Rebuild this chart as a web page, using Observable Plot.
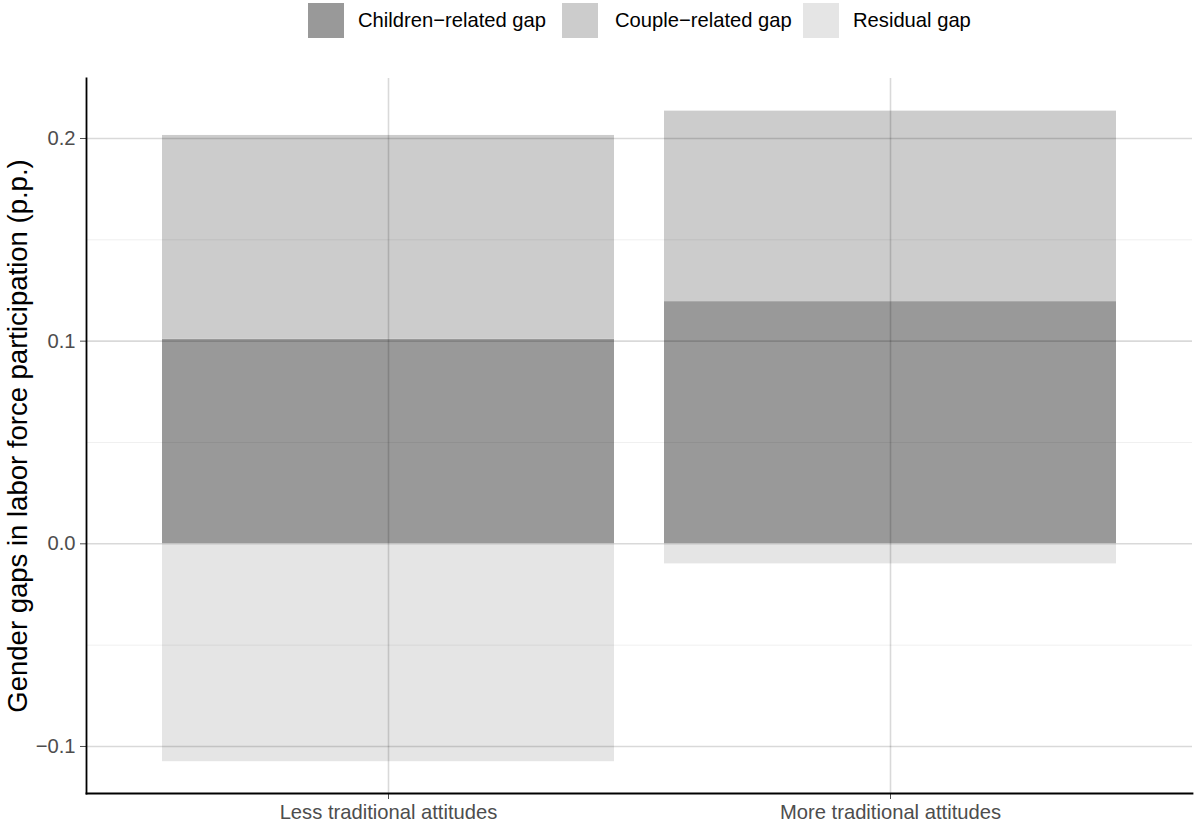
<!DOCTYPE html>
<html>
<head>
<meta charset="utf-8">
<script src="https://cdn.jsdelivr.net/npm/d3@7"></script>
<script src="https://cdn.jsdelivr.net/npm/@observablehq/plot@0.6"></script>
<style>
  body { margin: 0; background: #fff; font-family: "Liberation Sans", Arial, sans-serif; }
  #legend { position: relative; width: 1194px; height: 44px; }
  .sw { position: absolute; top: 3px; width: 36px; height: 35px; }
  .lt { position: absolute; top: 3px; height: 35px; line-height: 35px; font-size: 20.2px; color: #000; white-space: nowrap; }
</style>
</head>
<body>
<div id="legend"></div>
<div id="chart"></div>
<script>
const categories = ["Less traditional attitudes", "More traditional attitudes"];
const seriesNames = ["Children\u2212related gap", "Couple\u2212related gap", "Residual gap"];
const seriesColors = ["#999999", "#cccccc", "#e5e5e5"];
const childrenGap = [0.101, 0.1195];
const coupleGap = [0.1005, 0.094];
const residualGap = [-0.1075, -0.0099];
const yTicks = [-0.1, 0, 0.1, 0.2];
const yMinorTicks = [-0.05, 0.05, 0.15];
const yTitle = "Gender gaps in labor force participation (p.p.)";

const seriesValues = [childrenGap, coupleGap, residualGap];
const rows = categories.flatMap((c, i) =>
  seriesNames.map((s, k) => ({cat: c, series: s, value: seriesValues[k][i]}))
);

// Legend (HTML above the SVG)
const legendX = [308, 562, 803];
const legendTextX = [358, 615, 853];
const legend = document.getElementById("legend");
seriesNames.forEach((s, k) => {
  const sw = document.createElement("div");
  sw.className = "sw";
  sw.style.left = legendX[k] + "px";
  sw.style.background = seriesColors[k];
  legend.appendChild(sw);
  const t = document.createElement("div");
  t.className = "lt";
  t.style.left = legendTextX[k] + "px";
  t.textContent = s;
  legend.appendChild(t);
});

const fmt = d => d === 0 ? "0.0" : (d < 0 ? "\u2212" : "") + Math.abs(d).toFixed(1);

const chart = Plot.plot({
  width: 1194,
  height: 779,
  marginTop: 34,
  marginBottom: 30,
  marginLeft: 86,
  marginRight: 2,
  style: {fontFamily: "Liberation Sans, Arial, sans-serif", fontSize: "20.2px", background: "#fff", overflow: "visible"},
  x: {domain: categories, paddingInner: 0.1, paddingOuter: 0.15, label: null},
  y: {domain: [-0.1232, 0.2296], label: null},
  color: {domain: seriesNames, range: seriesColors},
  marks: [
    Plot.barY(rows, {x: "cat", y: "value", fill: "series", inset: 0}),
    Plot.ruleY(yMinorTicks, {stroke: "#000", strokeOpacity: 0.07, strokeWidth: 0.9}),
    Plot.ruleY(yTicks, {stroke: "#000", strokeOpacity: 0.15, strokeWidth: 1.6}),
    Plot.ruleX(categories, {stroke: "#000", strokeOpacity: 0.15, strokeWidth: 1.6}),
    Plot.axisY(yTicks, {tickFormat: fmt, tickSize: 6, tickPadding: 5, fontSize: 20.2, color: "#4d4d4d", label: null}),
    Plot.axisX({tickSize: 6, tickPadding: 5, fontSize: 20.2, color: "#4d4d4d", label: null}),
    Plot.frame({anchor: "left", stroke: "#000", strokeWidth: 1.8}),
    Plot.frame({anchor: "bottom", stroke: "#000", strokeWidth: 1.8}),
    Plot.text([yTitle], {frameAnchor: "left", textAnchor: "middle", dx: -68, rotate: -90, fontSize: 27.5, fill: "#000"})
  ]
});
document.getElementById("chart").appendChild(chart);
</script>
</body>
</html>
